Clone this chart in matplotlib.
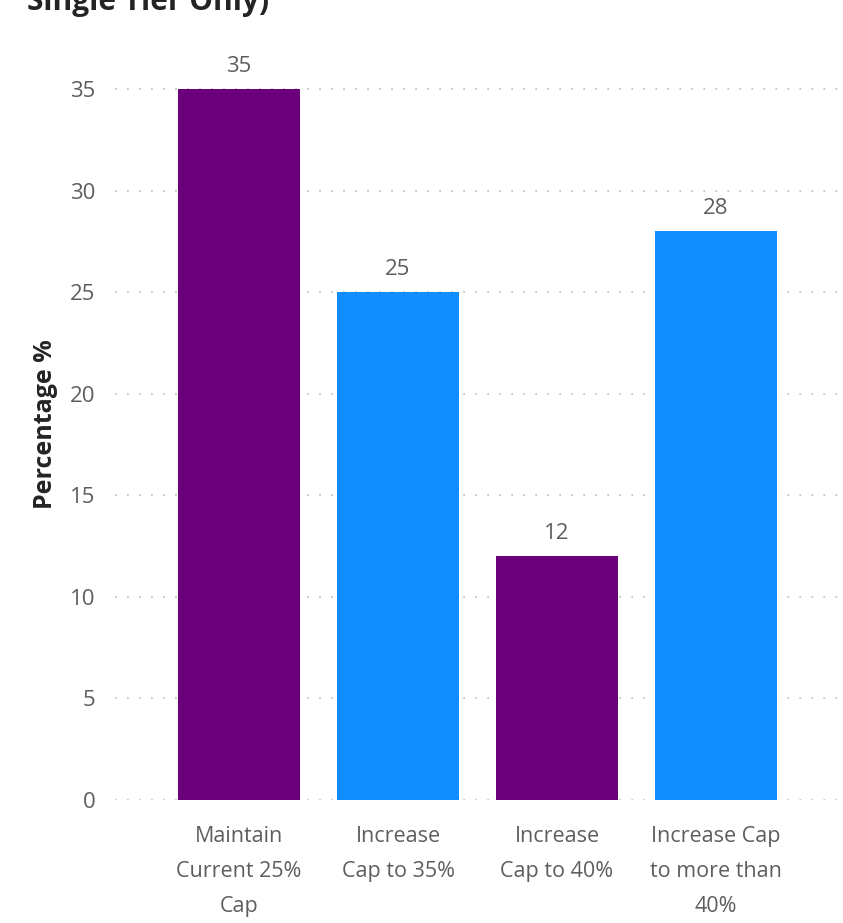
import matplotlib
matplotlib.use("Agg")
import matplotlib.pyplot as plt

categories = ["Maintain\nCurrent 25%\nCap", "Increase\nCap to 35%", "Increase\nCap to 40%", "Increase Cap\nto more than\n40%"]
values = [35, 25, 12, 28]
colors = ["#6B007B", "#118DFF", "#6B007B", "#118DFF"]
yticks = [0, 5, 10, 15, 20, 25, 30, 35]

plt.rcParams['font.family'] = ['Open Sans', 'DejaVu Sans']

fig = plt.figure(figsize=(8.43, 9.23), dpi=100)
ax = fig.add_axes([115/843, 123/923, 725/843, (800-48.4)/923])

x = list(range(len(values)))
bars = ax.bar(x, values, width=0.77, color=colors, zorder=3)
ax.set_xlim(-0.78, 3.78)
ax.set_ylim(0, 37)
ax.set_yticks(yticks)
ax.set_yticklabels([str(t) for t in yticks], fontsize=16, color="#605E5C")
ax.set_xticks(x)
ax.set_xticklabels(categories, fontsize=15.5, color="#605E5C", linespacing=1.85)
ax.tick_params(axis='both', length=0)
ax.tick_params(axis='y', pad=14)
ax.tick_params(axis='x', pad=19)

for s in ax.spines.values():
    s.set_visible(False)

ax.grid(axis='y', color="#C8C6C4", linewidth=1.3, linestyle=(0, (1, 5.65)), zorder=0)
ax.set_axisbelow(True)

for b, v in zip(bars, values):
    ax.annotate(str(v), (b.get_x() + b.get_width()/2, v), xytext=(0, 9), textcoords="offset points",
                ha="center", va="bottom", fontsize=16, color="#605E5C")

ax.set_ylabel("Percentage %", fontsize=18, fontweight="bold", color="#252423", labelpad=9)

fig.text(27/843, 1 - 10/923, "Single Tier Only)", fontsize=21.5, fontweight="bold", color="#252423",
         ha="left", va="baseline")

fig.savefig("out.png", dpi=100)
